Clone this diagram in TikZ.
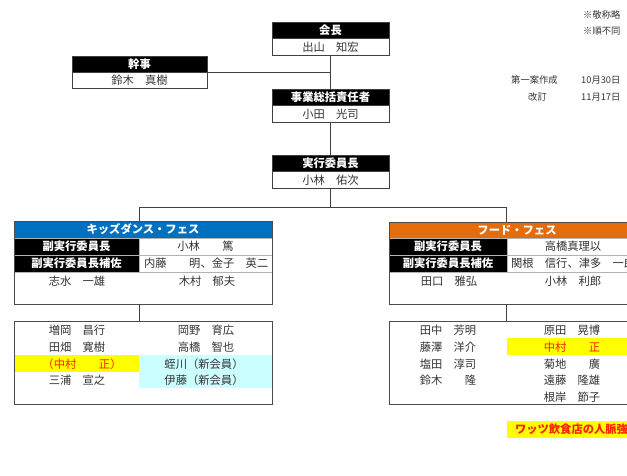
\documentclass[tikz,border=0pt]{standalone}
\usepackage{fontspec}
\setmainfont{Noto Sans CJK JP}
\definecolor{kblue}{HTML}{0070C0}
\definecolor{forange}{HTML}{E46C0A}
\definecolor{lcyan}{HTML}{CCFFFF}
\definecolor{hlyellow}{HTML}{FFFF00}
\definecolor{hlred}{HTML}{FF2000}
\definecolor{txt}{HTML}{333333}
\begin{document}
\begin{tikzpicture}[x=1pt,y=-1pt,
  base/.style={inner sep=0pt, outer sep=0pt, anchor=north west, font=\fontsize{11.3}{13}\selectfont},
  hdr/.style={base, draw=black!75, line width=0.8pt, fill=black, text=white, font=\fontsize{11.3}{13}\selectfont\bfseries},
  nm/.style={base, draw=black!75, line width=0.8pt, fill=white, text=txt},
  ttl/.style={base, draw=gray!60, line width=0.6pt, text=white, font=\fontsize{11.3}{13}\selectfont\bfseries},
  bk/.style={base, draw=gray!60, line width=0.6pt, fill=black, text=white, font=\fontsize{11.3}{13}\selectfont\bfseries},
  wc/.style={base, draw=gray!60, line width=0.6pt, fill=white, text=txt},
  outer/.style={draw=black!70, line width=0.9pt},
  lbl/.style={inner sep=0pt, text=txt, font=\fontsize{11.3}{13}\selectfont},
  note/.style={inner sep=0pt, anchor=west, text=txt, font=\fontsize{9.3}{11}\selectfont},
  conn/.style={draw=black!75, line width=0.8pt}
]
\useasboundingbox (0,0) rectangle (627,475);
\clip (0,0) rectangle (627,475);

% notes at the right
\node[note] (n1) at (583,15) {※敬称略};
\node[note] (n2) at (583,31) {※順不同};
\node[note] (n3) at (511,80) {第一案作成};
\node[note] (n4) at (581,80) {10月30日};
\node[note] (n5) at (528,97) {改訂};
\node[note] (n6) at (581,97) {11月17日};

% top chain
\node[hdr, minimum width=117, minimum height=16.5] (kaichoH) at (272,22) {会長};
\node[nm, minimum width=117, minimum height=16.5] (kaichoN) at (kaichoH.south west) {出山　知宏};
\node[hdr, minimum width=135, minimum height=16] (kanjiH) at (72,56) {幹事};
\node[nm, minimum width=135, minimum height=16.5] (kanjiN) at (kanjiH.south west) {鈴木　真樹};
\node[hdr, minimum width=117, minimum height=16.5] (jigyoH) at (272,89) {事業総括責任者};
\node[nm, minimum width=117, minimum height=17] (jigyoN) at (jigyoH.south west) {小田　光司};
\node[hdr, minimum width=117, minimum height=16.5] (jikkoH) at (272,155) {実行委員長};
\node[nm, minimum width=117, minimum height=17] (jikkoN) at (jikkoH.south west) {小林　佑次};

\draw[conn] (kaichoN.south) -- (jigyoH.north);
\draw[conn] (kanjiN.north east) -- (kanjiN.north east -| kaichoN.south);
\draw[conn] (jigyoN.south) -- (jikkoH.north);

\coordinate (kj) at (139,207);
\coordinate (fj) at (506,207);
\draw[conn] (jikkoN.south) -- (jikkoN.south |- kj);
\draw[conn] (kj) -- (fj);

% kids dance fes
\node[ttl, fill=kblue, minimum width=258, minimum height=17] (kidsT) at (14,221) {キッズダンス・フェス};
\node[bk, minimum width=125, minimum height=17] (kidsR1L) at (14,238) {副実行委員長};
\node[wc, minimum width=133, minimum height=17] (kidsR1R) at (139,238) {小林　　篤};
\node[bk, minimum width=125, minimum height=17] (kidsR2L) at (14,255) {副実行委員長補佐};
\node[wc, minimum width=133, minimum height=17, text width=129, align=left] (kidsR2R) at (139,255) {\hspace*{3pt}内藤　　明、金子　英二};
\node[wc, minimum width=258, minimum height=32] (kidsR3) at (14,272) {};
\node[lbl] (kidsA) at (77,281) {志水　一雄};
\node[lbl] (kidsB) at (207,281) {木村　郁夫};
\draw[outer] (kidsT.north west) rectangle (kidsR3.south east);
\draw[conn] (kj) -- (kj |- kidsT.north);

% kids members
\fill[hlyellow] (14,355) rectangle (139,372);
\fill[lcyan] (139,355) rectangle (272,388);
\node[base, minimum width=258, minimum height=83] (kidsM) at (14,321) {};
\draw[outer] (kidsM.north west) rectangle (kidsM.south east);
\draw[conn] (kidsR3.south -| kj) -- (kidsM.north -| kj);
\node[lbl] (km1) at (77,330) {増岡　昌行};
\node[lbl] (km2) at (77,347) {田畑　寛樹};
\node[lbl, text=hlred] (km3) at (82,364) {（中村　　正）};
\node[lbl] (km4) at (77,380) {三浦　宣之};
\node[lbl] (km5) at (206,330) {岡野　育広};
\node[lbl] (km6) at (206,347) {高橋　智也};
\node[lbl] (km7) at (204,364) {蛭川（新会員）};
\node[lbl] (km8) at (204,380) {伊藤（新会員）};

% food fes
\node[ttl, fill=forange, minimum width=256, minimum height=16] (foodT) at (389,222) {フード・フェス};
\node[bk, minimum width=118, minimum height=17] (foodR1L) at (389,238) {副実行委員長};
\node[wc, minimum width=138, minimum height=17] (foodR1R) at (507,238) {};
\node[lbl] (foodR1t) at (573,246.5) {高橋真理以};
\node[bk, minimum width=118, minimum height=17] (foodR2L) at (389,255) {副実行委員長補佐};
\node[wc, minimum width=138, minimum height=17, text width=134, align=left] (foodR2R) at (507,255) {\hspace*{2pt}関根　信行、津多　一郎};
\node[wc, minimum width=256, minimum height=32] (foodR3) at (389,272) {};
\node[lbl] (foodA) at (449,281) {田口　雅弘};
\node[lbl] (foodB) at (573,281) {小林　利郎};
\draw[outer] (foodT.north west) rectangle (foodR3.south east);
\draw[conn] (fj) -- (fj |- foodT.north);

% food members
\fill[hlyellow] (507,338) rectangle (645,355);
\node[base, minimum width=256, minimum height=83] (foodM) at (389,321) {};
\draw[outer] (foodM.north west) rectangle (foodM.south east);
\draw[conn] (foodR3.south -| fj) -- (foodM.north -| fj);
\node[lbl] (fm1) at (448,330) {田中　芳明};
\node[lbl] (fm2) at (448,347) {藤澤　洋介};
\node[lbl] (fm3) at (448,364) {塩田　淳司};
\node[lbl] (fm4) at (448,380) {鈴木　　隆};
\node[lbl] (fm5) at (572,330) {原田　晃博};
\node[lbl, text=hlred] (fm6) at (572,347) {中村　　正};
\node[lbl] (fm7) at (572,364) {菊地　　廣};
\node[lbl] (fm8) at (572,380) {遠藤　隆雄};
\node[lbl] (fm9) at (572,397) {根岸　節子};

% label
\node[base, fill=hlyellow, text=hlred, minimum height=17, inner xsep=8pt, font=\fontsize{11.3}{13}\selectfont\bfseries] (watts) at (507,421) {ワッツ飲食店の人脈強化};
\end{tikzpicture}
\end{document}
